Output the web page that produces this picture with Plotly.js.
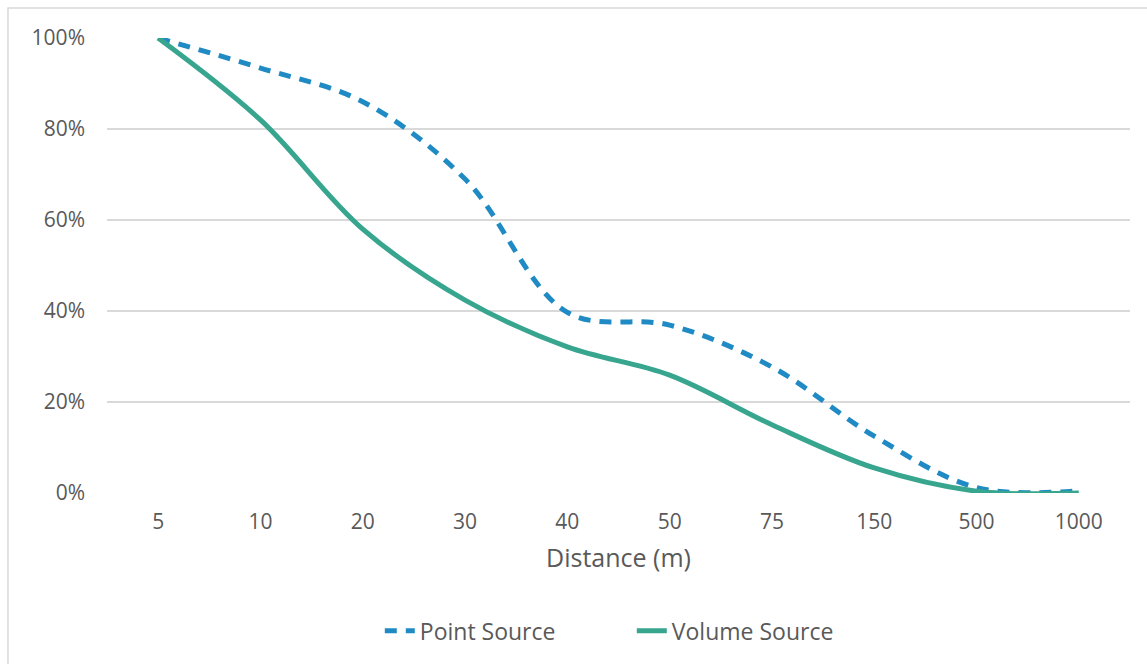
<!DOCTYPE html>
<html>
<head>
<meta charset="utf-8">
<script src="https://cdn.plot.ly/plotly-3.0.1.min.js"></script>
<style>
  html, body { margin: 0; padding: 0; background: #ffffff; }
  #chart { width: 1147px; height: 664px; }
</style>
</head>
<body>
<div id="chart"></div>
<script>
// Distance categories (m)
const distances = ['5', '10', '20', '30', '40', '50', '75', '150', '500', '1000'];
// Share remaining at each distance
const pointSource = [1.00, 0.934, 0.86, 0.69, 0.397, 0.369, 0.277, 0.125, 0.012, 0.005];
const volumeSource = [1.00, 0.82, 0.58, 0.424, 0.321, 0.259, 0.15, 0.055, 0.004, 0.0];

const textColor = '#595959';
const fontFamily = '"Open Sans", Lato, sans-serif';

const traces = [
  {
    x: distances,
    y: pointSource,
    name: 'Point Source',
    type: 'scatter',
    mode: 'lines',
    line: { color: '#1F8AC3', width: 5, dash: '12px,9px', shape: 'spline', smoothing: 1 },
    hoverinfo: 'x+y'
  },
  {
    x: distances,
    y: volumeSource,
    name: 'Volume Source',
    type: 'scatter',
    mode: 'lines',
    line: { color: '#38A58F', width: 5, shape: 'spline', smoothing: 1 },
    hoverinfo: 'x+y'
  }
];

const layout = {
  width: 1147,
  height: 664,
  margin: { l: 107, r: 17, t: 38, b: 171 },
  paper_bgcolor: '#ffffff',
  plot_bgcolor: '#ffffff',
  font: { family: fontFamily, color: textColor, size: 22 },
  showlegend: true,
  legend: {
    orientation: 'h',
    x: 0.513,
    xanchor: 'center',
    y: -0.303,
    yanchor: 'middle',
    entrywidth: 207,
    font: { size: 23, color: textColor },
    traceorder: 'normal'
  },
  xaxis: {
    type: 'category',
    range: [-0.5, 9.5],
    showgrid: false,
    zeroline: false,
    showline: false,
    ticks: '',
    ticklabelstandoff: 14,
    tickfont: { size: 21, color: textColor },
    title: { text: 'Distance (m)', font: { size: 25, color: textColor }, standoff: 15 }
  },
  yaxis: {
    range: [0, 1],
    dtick: 0.2,
    tickformat: '.0%',
    showgrid: true,
    gridcolor: '#d9d9d9',
    gridwidth: 1.5,
    zeroline: false,
    showline: false,
    ticks: '',
    ticklabelstandoff: 21,
    tickfont: { size: 21, color: textColor }
  },
  shapes: [
    {
      type: 'rect',
      xref: 'paper', yref: 'paper',
      x0: -0.0968, x1: 1.08,
      y0: -0.45, y1: 1.0659,
      line: { color: '#d9d9d9', width: 1.5 },
      fillcolor: 'rgba(0,0,0,0)',
      layer: 'below'
    }
  ]
};

Plotly.newPlot('chart', traces, layout, { displayModeBar: false, staticPlot: true });
</script>
</body>
</html>
